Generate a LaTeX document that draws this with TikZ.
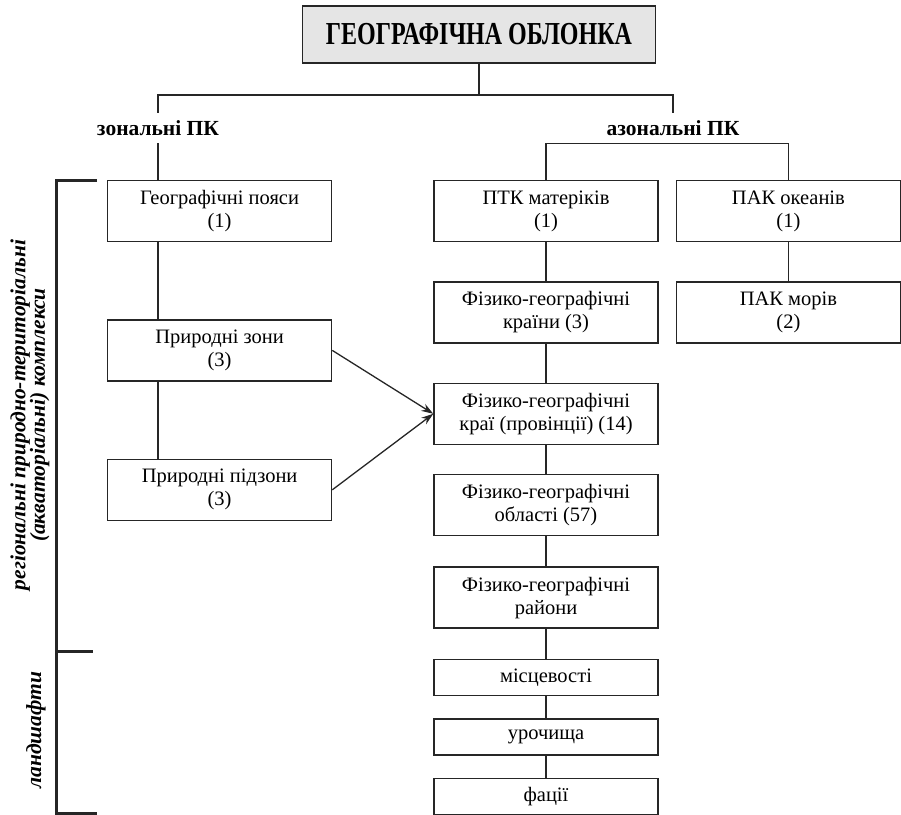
\documentclass[tikz,border=0pt]{standalone}
\usepackage{fontspec}
\setmainfont{Liberation Serif}
\usepackage{graphicx}
\usepackage{tikz}
\usetikzlibrary{positioning,arrows.meta}

\tikzset{
  level/.style={draw=black!85, line width=1.4pt, minimum width=224pt, inner sep=0pt,
    align=center, font=\fontsize{20.5}{23}\selectfont},
  tall/.style={level, minimum height=61pt},
  low/.style={level, minimum height=36pt},
  branch/.style={minimum height=30pt, inner sep=0pt, font=\bfseries\fontsize{21.5}{22}\selectfont},
  side/.style={rotate=90, align=center, font=\bfseries\itshape\fontsize{21.5}{19.5}\selectfont},
  link/.style={draw=black!85, line width=1.3pt},
}

\begin{document}
\begin{tikzpicture}[x=1pt, y=-1pt]
  \useasboundingbox (0,0) rectangle (901,814);

  \node [draw=black!85, line width=1.6pt, fill=black!10, minimum width=353pt, minimum height=57pt, inner sep=0pt] (title) at (479,34.5)
    {\scalebox{0.75}[1]{\bfseries\fontsize{32}{32}\selectfont ГЕОГРАФІЧНА ОБЛОНКА}};

  \node [branch] (zonal) at (158,128) {зональні ПК};
  \node [branch] (azonal) at (673,128) {азональні ПК};

  % azonal column
  \node [tall] (mainland) at (546,211) {ПТК матеріків\\(1)};
  \node [tall, below=39pt of mainland] (countries) {Фізико-географічні\\країни (3)};
  \node [tall, below=39pt of countries] (provinces) {Фізико-географічні\\краї (провінції) (14)};
  \node [tall, below=29pt of provinces] (regions) {Фізико-географічні\\області (57)};
  \node [tall, below=30pt of regions] (districts) {Фізико-географічні\\райони};
  \node [low, below=30pt of districts] (localities) {місцевості};
  \node [low, below=22pt of localities] (tracts) {урочища};
  \node [low, below=22pt of tracts] (facies) {фації};

  \node [tall, right=17pt of mainland] (oceans) {ПАК океанів\\(1)};
  \node [tall, below=39pt of oceans] (seas) {ПАК морів\\(2)};

  % zonal column
  \node [tall, left=101pt of mainland] (belts) {Географічні пояси\\(1)};
  \node [tall, below=77pt of belts] (zones) {Природні зони\\(3)};
  \node [tall, below=77pt of zones] (subzones) {Природні підзони\\(3)};

  \node [side] (regional) at (30,415) {регіональні природно-територіальні\\(акваторіальні) комплекси};
  \node [side] (landscapes) at (36,730) {ландшафти};

  \coordinate (split) at (479,95);
  \draw [link] (title) -- (split);
  \draw [link] (zonal.north) |- (split) -| (azonal.north);
  \draw [link] (mainland.north) |- (azonal.south) -| (oceans.north);

  \draw [link] (zonal) -- (zonal |- belts.north);
  \draw [link] (belts.south -| zonal) -- (zones.north -| zonal);
  \draw [link] (zones.south -| zonal) -- (subzones.north -| zonal);

  \draw [link] (mainland) -- (countries) -- (provinces) -- (regions) -- (districts)
    -- (localities) -- (tracts) -- (facies);
  \draw [link] (oceans) -- (seas);

  \draw [link, -{Stealth[length=12pt, width=8pt]}] (zones.east) -- (provinces.west);
  \draw [link, -{Stealth[length=12pt, width=8pt]}] (subzones.east) -- (provinces.west);

  % bracket
  \draw [line width=3pt, black!85] (97,180) -- (56,180) -- (56,813) -- (97,813);
  \draw [line width=3pt, black!85] (56,651) -- (93,651);
\end{tikzpicture}
\end{document}
